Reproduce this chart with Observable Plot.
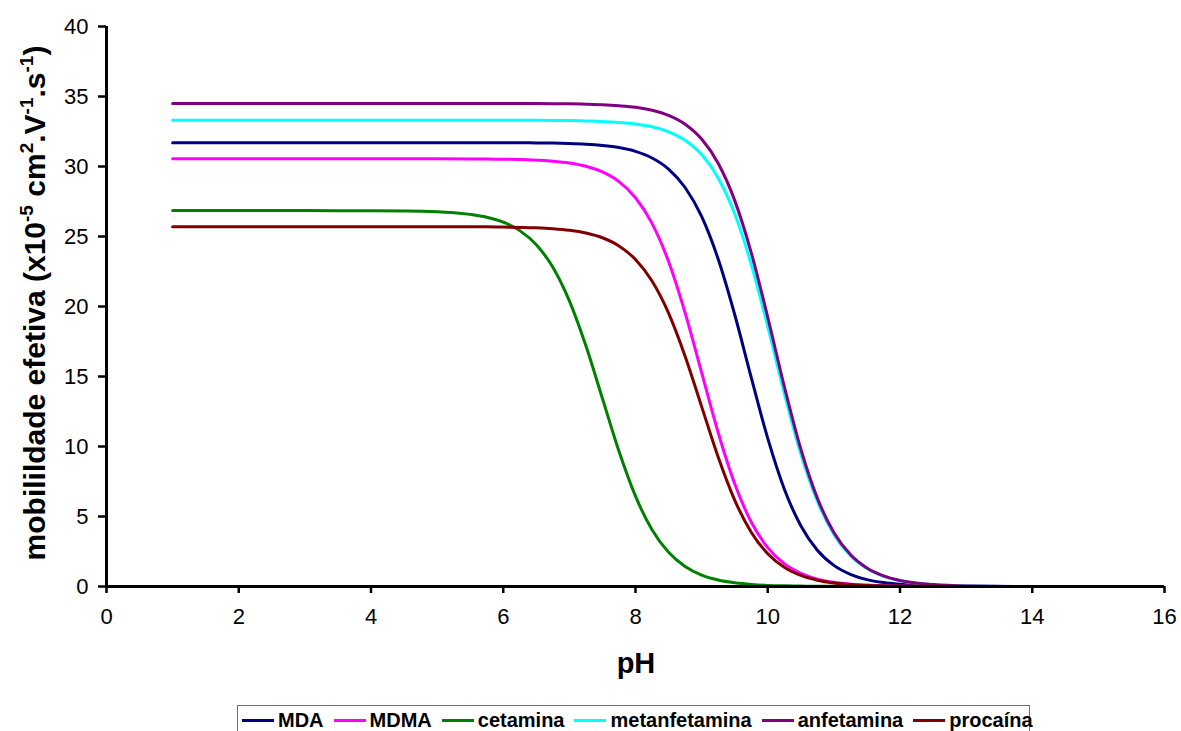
<!DOCTYPE html>
<html>
<head>
<meta charset="utf-8">
<script src="https://cdn.jsdelivr.net/npm/d3@7"></script>
<script src="https://cdn.jsdelivr.net/npm/@observablehq/plot@0.6"></script>
<style>
  html, body { margin: 0; padding: 0; background: #fff; }
  body { width: 1181px; height: 731px; overflow: hidden; position: relative; font-family: "Liberation Sans", Arial, sans-serif; }
  #chart { position: absolute; left: 0; top: 0; }
  #legend { position: absolute; left: 237px; top: 705px; width: 793px; height: 40px; border: 1.5px solid #707070; box-sizing: border-box; display: flex; align-items: center; height: 30px; padding-left: 4px; font-weight: bold; font-size: 20px; color: #000; border-bottom: none; }
  .item { display: flex; align-items: center; margin-right: 10px; white-space: nowrap; }
  .swatch { width: 32px; height: 3px; margin-right: 4px; }
</style>
</head>
<body>
<div id="chart"></div>
<div id="legend"></div>
<script>
// pH values (x)
const pH = [1, 2, 3, 4, 5, 5.5, 5.75, 6, 6.25, 6.5, 6.75, 7, 7.25, 7.5, 7.75, 8, 8.25, 8.5, 8.75, 9, 9.25, 9.5, 9.75, 10, 10.25, 10.5, 10.75, 11, 11.25, 11.5, 11.75, 12, 12.5, 13, 14];

// mobilidade efetiva (x10^-5 cm2.V-1.s-1)
const MDA = [31.7, 31.7, 31.7, 31.7, 31.7, 31.7, 31.7, 31.7, 31.7, 31.68, 31.67, 31.64, 31.59, 31.5, 31.35, 31.08, 30.61, 29.82, 28.5, 26.43, 23.39, 19.43, 14.94, 10.58, 6.97, 4.34, 2.59, 1.51, 0.87, 0.49, 0.28, 0.16, 0.05, 0.02, 0];
const MDMA = [30.55, 30.55, 30.55, 30.55, 30.55, 30.54, 30.53, 30.52, 30.5, 30.45, 30.38, 30.25, 30.02, 29.61, 28.92, 27.77, 25.94, 23.21, 19.55, 15.28, 11.0, 7.34, 4.61, 2.78, 1.63, 0.94, 0.53, 0.3, 0.17, 0.1, 0.05, 0.03, 0.01, 0, 0];
const cetamina = [26.85, 26.85, 26.85, 26.84, 26.77, 26.58, 26.38, 26.03, 25.42, 24.41, 22.8, 20.4, 17.19, 13.43, 9.66, 6.45, 4.05, 2.44, 1.43, 0.82, 0.47, 0.27, 0.15, 0.08, 0.05, 0.03, 0.02, 0.01, 0.01, 0, 0, 0, 0, 0, 0];
const metanfetamina = [33.3, 33.3, 33.3, 33.3, 33.3, 33.3, 33.3, 33.3, 33.3, 33.3, 33.29, 33.28, 33.25, 33.22, 33.15, 33.04, 32.84, 32.48, 31.87, 30.85, 29.18, 26.62, 23.02, 18.56, 13.8, 9.48, 6.09, 3.72, 2.2, 1.28, 0.73, 0.41, 0.13, 0.04, 0];
const anfetamina = [34.5, 34.5, 34.5, 34.5, 34.5, 34.5, 34.5, 34.5, 34.5, 34.5, 34.49, 34.48, 34.45, 34.41, 34.34, 34.23, 34.02, 33.65, 33.02, 31.96, 30.23, 27.58, 23.85, 19.23, 14.3, 9.82, 6.31, 3.86, 2.28, 1.32, 0.76, 0.43, 0.14, 0.04, 0];
const procaina = [25.7, 25.7, 25.7, 25.7, 25.7, 25.69, 25.69, 25.67, 25.65, 25.62, 25.56, 25.45, 25.25, 24.91, 24.33, 23.36, 21.82, 19.53, 16.45, 12.85, 9.25, 6.17, 3.88, 2.34, 1.37, 0.79, 0.45, 0.25, 0.14, 0.08, 0.05, 0.03, 0.01, 0, 0];

const seriesNames = ["MDA", "MDMA", "cetamina", "metanfetamina", "anfetamina", "procaína"];
const seriesValues = [MDA, MDMA, cetamina, metanfetamina, anfetamina, procaina];
const seriesColors = ["#000080", "#FF00FF", "#008000", "#00FFFF", "#800080", "#800000"];

const xTicks = [0, 2, 4, 6, 8, 10, 12, 14, 16];
const yTicks = [0, 5, 10, 15, 20, 25, 30, 35, 40];

const data = seriesNames.flatMap((name, s) =>
  pH.map((x, i) => ({ pH: x, mob: seriesValues[s][i], serie: name }))
);

const chart = Plot.plot({
  width: 1181,
  height: 700,
  marginTop: 26,
  marginLeft: 106,
  marginRight: 17,
  marginBottom: 114,
  style: { fontFamily: "'Liberation Sans', Arial, sans-serif", fontSize: "22px", color: "#000", background: "#fff" },
  x: { domain: [0, 16] },
  y: { domain: [0, 40] },
  color: { domain: seriesNames, range: seriesColors },
  marks: [
    Plot.axisX({ ticks: xTicks, tickSize: 7, tickPadding: 15, label: null, strokeWidth: 2.5, fontSize: 22, tickFormat: d => String(d) }),
    Plot.axisY({ ticks: yTicks, tickSize: 8, tickPadding: 10, label: null, strokeWidth: 2.5, fontSize: 22, tickFormat: d => String(d) }),
    Plot.line(data, { x: "pH", y: "mob", z: "serie", stroke: "serie", strokeWidth: 3, curve: "monotone-x" }),
    Plot.ruleY([0], { stroke: "#000", strokeWidth: 3 }),
    Plot.ruleX([0], { stroke: "#000", strokeWidth: 3 })
  ]
});

document.getElementById("chart").appendChild(chart);

// Axis titles (real text with superscripts)
const svg = d3.select(chart);
svg.append("text")
  .attr("x", 636).attr("y", 673)
  .attr("text-anchor", "middle")
  .attr("font-weight", "bold").attr("font-size", "29px")
  .text("pH");

const yl = svg.append("text")
  .attr("transform", "translate(45,303) rotate(-90)")
  .attr("text-anchor", "middle")
  .attr("font-weight", "bold").attr("font-size", "30px");
const parts = [["mobilildade efetiva (x10", false], ["-5", true], [" cm", false], ["2", true], [".V", false], ["-1", true], [".s", false], ["-1", true], [")", false]];
parts.forEach(([t, sup], i) => {
  const ts = yl.append("tspan").text(t);
  if (sup) ts.attr("dy", "-12").attr("font-size", "19px");
  else if (i > 0 && parts[i - 1][1]) ts.attr("dy", "12");
});

// Legend
const legend = d3.select("#legend");
seriesNames.forEach((name, i) => {
  const it = legend.append("div").attr("class", "item");
  it.append("div").attr("class", "swatch").style("background", seriesColors[i]);
  it.append("span").text(name);
});
</script>
</body>
</html>
